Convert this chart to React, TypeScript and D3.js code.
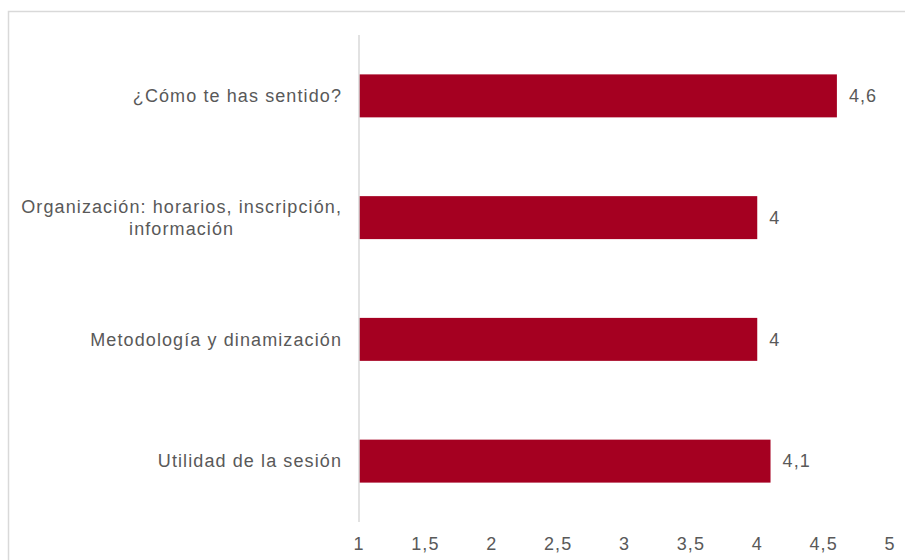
import React, { FunctionComponent, useEffect, createRef } from 'react'
import * as d3 from 'd3'

const categories = [
  '¿Cómo te has sentido?',
  'Organización: horarios, inscripción,|información',
  'Metodología y dinamización',
  'Utilidad de la sesión',
]
const values = [4.6, 4, 4, 4.1]
const tickValues = [1, 1.5, 2, 2.5, 3, 3.5, 4, 4.5, 5]

const width = 905
const height = 560

const fmt = (v: number) => String(v).replace('.', ',')

const Chart: FunctionComponent = () => {
  const svgRef = createRef<SVGSVGElement>()

  useEffect(() => {
    svgRef.current.innerHTML = ''
    const chart = d3.select(svgRef.current)
    chart.attr('width', width).attr('height', height)

    const font = '"Liberation Sans", Arial, sans-serif'
    const textColor = '#595959'
    const fontSize = 18
    const spacing = 1.1

    // outer chart frame (runs off the right / bottom edge)
    chart
      .append('rect')
      .attr('x', 8.5)
      .attr('y', 11.5)
      .attr('width', 1000)
      .attr('height', 1000)
      .attr('fill', 'none')
      .attr('stroke', '#d9d9d9')
      .attr('stroke-width', 1.5)

    const xScale = d3.scaleLinear().domain([1, 5]).range([359, 890])

    const yScale = d3
      .scaleBand<string>()
      .domain(categories)
      .range([35, 522])
      .paddingInner(0.647)
      .paddingOuter(0.3235)

    chart
      .selectAll('rect.bar')
      .data(values)
      .enter()
      .append('rect')
      .attr('class', 'bar')
      .attr('x', xScale(1))
      .attr('y', (d, i) => yScale(categories[i]))
      .attr('width', d => xScale(d) - xScale(1))
      .attr('height', yScale.bandwidth())
      .attr('fill', '#a50021')

    // vertical axis line
    chart
      .append('line')
      .attr('x1', xScale(1))
      .attr('x2', xScale(1))
      .attr('y1', 35)
      .attr('y2', 522)
      .attr('stroke', '#d9d9d9')
      .attr('stroke-width', 1.5)

    // value labels
    chart
      .selectAll('text.val')
      .data(values)
      .enter()
      .append('text')
      .attr('class', 'val')
      .attr('x', d => xScale(d) + 12)
      .attr('y', (d, i) => yScale(categories[i]) + yScale.bandwidth() / 2)
      .attr('dy', '0.35em')
      .attr('font-family', font)
      .attr('font-size', fontSize)
      .attr('letter-spacing', spacing)
      .attr('fill', textColor)
      .text(d => fmt(d))

    // category labels, wrapped lines are centred on each other
    categories.forEach(c => {
      const lines = c.split('|')
      const cy = yScale(c) + yScale.bandwidth() / 2
      const lineH = 22
      const g = chart.append('g')
      const texts = lines.map((l, j) =>
        g
          .append('text')
          .attr('y', cy + (j - (lines.length - 1) / 2) * lineH)
          .attr('dy', '0.35em')
          .attr('font-family', font)
          .attr('font-size', fontSize)
          .attr('letter-spacing', spacing)
          .attr('fill', textColor)
          .attr('text-anchor', 'middle')
          .text(l)
      )
      const maxW = d3.max(texts, t => (t.node() as SVGTextElement).getComputedTextLength())
      texts.forEach(t => t.attr('x', 342 - maxW / 2))
    })

    // x axis tick labels
    chart
      .selectAll('text.tick')
      .data(tickValues)
      .enter()
      .append('text')
      .attr('class', 'tick')
      .attr('x', d => xScale(d))
      .attr('y', 544)
      .attr('dy', '0.35em')
      .attr('text-anchor', 'middle')
      .attr('font-family', font)
      .attr('font-size', fontSize)
      .attr('letter-spacing', spacing)
      .attr('fill', textColor)
      .text(d => fmt(d))
  }, [svgRef])

  return <svg ref={svgRef} style={{ position: 'absolute', left: 0, top: 0 }} />
}

export default function App() {
  return <Chart />
}
